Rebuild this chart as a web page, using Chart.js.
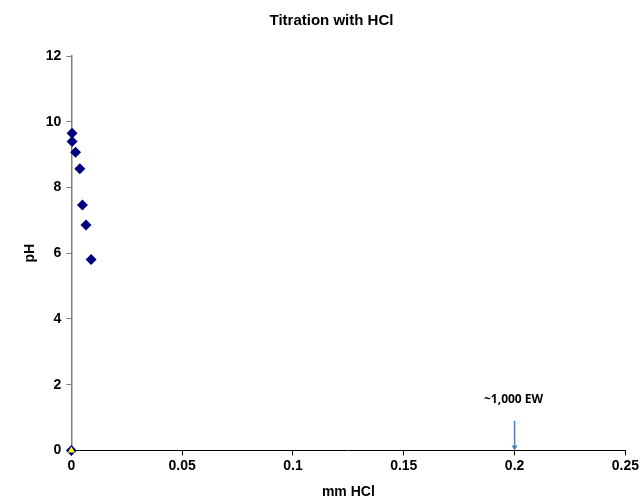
<!DOCTYPE html>
<html>
<head>
<meta charset="utf-8">
<script src="https://cdn.jsdelivr.net/npm/chart.js@4/dist/chart.umd.min.js"></script>
<style>
  html, body { margin: 0; padding: 0; background: #fff; }
  #wrap { width: 641px; height: 501px; position: relative; }
</style>
</head>
<body>
<div id="wrap"><canvas id="titrationChart"></canvas></div>
<script>
// mm HCl added vs pH
const mmHcl = [0.0003, 0.0003, 0.0019, 0.0038, 0.005, 0.0066, 0.0089, 0];
const phValues = [9.65, 9.4, 9.07, 8.57, 7.47, 6.86, 5.81, 0];
// second marker at the origin
const originX = [0];
const originY = [0];
// equivalence weight note
const noteX = 0.2;
const noteTop = 0.9;
const noteText = "~1,000 EW";
const xTicks = [0, 0.05, 0.1, 0.15, 0.2, 0.25];
const yTicks = [0, 2, 4, 6, 8, 10, 12];

const noteArrow = {
    id: 'noteArrow',
    afterDatasetsDraw(chart) {
        const { ctx, scales: { x, y } } = chart;
        const px = x.getPixelForValue(noteX);
        const top = y.getPixelForValue(noteTop);
        const bottom = y.getPixelForValue(0);
        ctx.save();
        ctx.strokeStyle = '#4a7ebb';
        ctx.fillStyle = '#4a7ebb';
        ctx.lineWidth = 1.5;
        ctx.beginPath();
        ctx.moveTo(px, top);
        ctx.lineTo(px, bottom - 4);
        ctx.stroke();
        ctx.beginPath();
        ctx.moveTo(px - 3, bottom - 5);
        ctx.lineTo(px + 3, bottom - 5);
        ctx.lineTo(px, bottom);
        ctx.closePath();
        ctx.fill();
        ctx.fillStyle = '#000';
        ctx.font = 'bold 12px "Open Sans"';
        ctx.textAlign = 'center';
        ctx.textBaseline = 'middle';
        ctx.fillText(noteText, px - 1, top - 21);
        ctx.restore();
    }
};

const ctx = document.getElementById('titrationChart').getContext('2d');

const titrationChart = new Chart(ctx, {
    type: 'scatter',
    data: {
        datasets: [{
            label: "origin",
            data: originX.map((v, i) => ({ x: v, y: originY[i] })),
            pointStyle: 'triangle',
            pointRadius: 4,
            backgroundColor: "#ffff00",
            borderColor: "#ffff00",
            borderWidth: 0,
            clip: false,
            order: 0
        }, {
            label: "pH",
            data: mmHcl.map((v, i) => ({ x: v, y: phValues[i] })),
            pointStyle: 'rectRot',
            pointRadius: 5.5,
            backgroundColor: "#000080",
            borderColor: "#000080",
            borderWidth: 0,
            clip: false,
            order: 1
        }]
    },
    plugins: [noteArrow],
    options: {
        responsive: true,
        maintainAspectRatio: false,
        animation: false,
        layout: { padding: { top: 12, right: 0, left: 22, bottom: 0 } },
        scales: {
            x: {
                type: 'linear',
                min: 0,
                max: 0.25,
                afterBuildTicks: axis => { axis.ticks = xTicks.map(v => ({ value: v })); },
                ticks: {
                    color: "#000",
                    font: { size: 14, weight: 'bold', family: "Liberation Sans" },
                    padding: 2,
                    maxRotation: 0,
                    callback: value => String(value)
                },
                grid: { display: true, drawOnChartArea: false, tickLength: 5, color: "#000" },
                border: { color: "#000", width: 1 },
                title: {
                    display: true,
                    text: "mm HCl",
                    color: "#000",
                    font: { size: 14, weight: 'bold', family: "Liberation Sans" },
                    padding: { top: 8, bottom: 0 }
                }
            },
            y: {
                min: 0,
                max: 12,
                afterBuildTicks: axis => { axis.ticks = yTicks.map(v => ({ value: v })); },
                ticks: {
                    color: "#000",
                    font: { size: 14, weight: 'bold', family: "Liberation Sans" },
                    padding: 5
                },
                grid: { display: true, drawOnChartArea: false, tickLength: 5, color: "#808080" },
                border: { color: "#808080", width: 1.5 },
                title: {
                    display: true,
                    text: "pH",
                    color: "#000",
                    font: { size: 14, weight: 'bold', family: "Liberation Sans" },
                    padding: { top: 0, bottom: 2 }
                }
            }
        },
        plugins: {
            legend: { display: false },
            tooltip: { enabled: false },
            title: {
                display: true,
                text: "Titration with HCl",
                color: "#000",
                font: { size: 15, weight: 'bold', family: "Liberation Sans" },
                padding: { top: 0, bottom: 26 }
            }
        }
    }
});
</script>
</body>
</html>
